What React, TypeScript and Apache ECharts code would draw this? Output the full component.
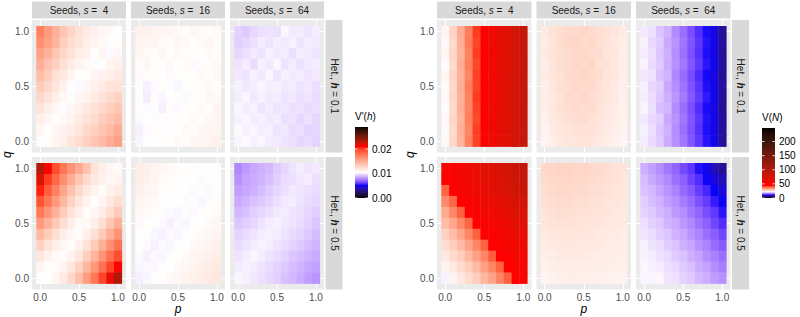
import React, { useEffect, useRef } from 'react';
import * as echarts from 'echarts';

// ---------------- data ----------------
const P = [0, 0.1, 0.2, 0.3, 0.4, 0.5, 0.6, 0.7, 0.8, 0.9, 1.0];
const Q_ROWS = [1.0, 0.9, 0.8, 0.7, 0.6, 0.5, 0.4, 0.3, 0.2, 0.1, 0.0];
const AXIS_BREAKS = [0, 0.5, 1.0];
const SEEDS = [4, 16, 64];
const HET = ['0.1', '0.5'];

// V'(h) panels, rows q = 1.0 ... 0.0, columns p = 0 ... 1
const vhH1S4 = [
  [0.0172, 0.0160, 0.0148, 0.0137, 0.0128, 0.0121, 0.0116, 0.0112, 0.0109, 0.0108, 0.0106],
  [0.0165, 0.0156, 0.0146, 0.0132, 0.0124, 0.0119, 0.0113, 0.0111, 0.0108, 0.0105, 0.0107],
  [0.0156, 0.0148, 0.0136, 0.0127, 0.0121, 0.0114, 0.0112, 0.0106, 0.0110, 0.0104, 0.0109],
  [0.0149, 0.0138, 0.0131, 0.0122, 0.0115, 0.0111, 0.0108, 0.0105, 0.0106, 0.0111, 0.0112],
  [0.0141, 0.0133, 0.0122, 0.0117, 0.0110, 0.0106, 0.0105, 0.0110, 0.0112, 0.0114, 0.0117],
  [0.0133, 0.0126, 0.0119, 0.0112, 0.0106, 0.0104, 0.0109, 0.0112, 0.0116, 0.0120, 0.0121],
  [0.0126, 0.0121, 0.0114, 0.0109, 0.0105, 0.0110, 0.0111, 0.0116, 0.0121, 0.0125, 0.0129],
  [0.0120, 0.0114, 0.0109, 0.0105, 0.0109, 0.0112, 0.0117, 0.0121, 0.0126, 0.0131, 0.0136],
  [0.0114, 0.0110, 0.0106, 0.0108, 0.0111, 0.0116, 0.0121, 0.0125, 0.0132, 0.0137, 0.0142],
  [0.0110, 0.0106, 0.0109, 0.0112, 0.0115, 0.0119, 0.0126, 0.0131, 0.0137, 0.0143, 0.0150],
  [0.0105, 0.0107, 0.0110, 0.0113, 0.0119, 0.0124, 0.0130, 0.0136, 0.0142, 0.0149, 0.0156],
];
const vhH1S16 = [
  [0.0113, 0.0112, 0.0111, 0.0110, 0.0109, 0.0108, 0.0107, 0.0109, 0.0108, 0.0107, 0.0108],
  [0.0111, 0.0109, 0.0110, 0.0108, 0.0107, 0.0109, 0.0108, 0.0106, 0.0108, 0.0109, 0.0107],
  [0.0110, 0.0108, 0.0107, 0.0109, 0.0106, 0.0108, 0.0105, 0.0107, 0.0106, 0.0108, 0.0107],
  [0.0107, 0.0109, 0.0106, 0.0105, 0.0108, 0.0106, 0.0107, 0.0104, 0.0107, 0.0106, 0.0108],
  [0.0108, 0.0105, 0.0107, 0.0106, 0.0104, 0.0107, 0.0105, 0.0106, 0.0108, 0.0107, 0.0109],
  [0.0106, 0.0102, 0.0104, 0.0107, 0.0105, 0.0103, 0.0106, 0.0105, 0.0107, 0.0108, 0.0107],
  [0.0105, 0.0101, 0.0107, 0.0103, 0.0106, 0.0105, 0.0104, 0.0107, 0.0106, 0.0109, 0.0108],
  [0.0107, 0.0104, 0.0105, 0.0102, 0.0107, 0.0104, 0.0107, 0.0106, 0.0108, 0.0107, 0.0110],
  [0.0104, 0.0106, 0.0105, 0.0107, 0.0105, 0.0107, 0.0106, 0.0108, 0.0107, 0.0109, 0.0110],
  [0.0102, 0.0104, 0.0107, 0.0105, 0.0107, 0.0106, 0.0108, 0.0107, 0.0109, 0.0110, 0.0111],
  [0.0103, 0.0105, 0.0106, 0.0107, 0.0106, 0.0108, 0.0107, 0.0109, 0.0110, 0.0111, 0.0112],
];
const vhH1S64 = [
  [0.0095, 0.0093, 0.0096, 0.0098, 0.0099, 0.0098, 0.0103, 0.0100, 0.0101, 0.0099, 0.0101],
  [0.0094, 0.0096, 0.0098, 0.0101, 0.0099, 0.0101, 0.0100, 0.0102, 0.0099, 0.0101, 0.0100],
  [0.0096, 0.0098, 0.0100, 0.0099, 0.0102, 0.0100, 0.0101, 0.0098, 0.0101, 0.0100, 0.0099],
  [0.0099, 0.0101, 0.0097, 0.0102, 0.0100, 0.0103, 0.0099, 0.0101, 0.0098, 0.0100, 0.0101],
  [0.0100, 0.0099, 0.0102, 0.0100, 0.0103, 0.0099, 0.0102, 0.0100, 0.0101, 0.0099, 0.0100],
  [0.0102, 0.0100, 0.0101, 0.0103, 0.0101, 0.0102, 0.0100, 0.0101, 0.0099, 0.0100, 0.0098],
  [0.0101, 0.0103, 0.0100, 0.0102, 0.0100, 0.0101, 0.0099, 0.0100, 0.0098, 0.0099, 0.0097],
  [0.0103, 0.0101, 0.0102, 0.0099, 0.0101, 0.0099, 0.0100, 0.0098, 0.0099, 0.0097, 0.0098],
  [0.0102, 0.0103, 0.0101, 0.0102, 0.0100, 0.0101, 0.0098, 0.0099, 0.0096, 0.0098, 0.0096],
  [0.0104, 0.0102, 0.0103, 0.0101, 0.0102, 0.0099, 0.0100, 0.0097, 0.0098, 0.0095, 0.0096],
  [0.0103, 0.0104, 0.0102, 0.0103, 0.0101, 0.0100, 0.0099, 0.0098, 0.0096, 0.0097, 0.0095],
];
const vhH5S4 = [
  [0.0232, 0.0212, 0.0195, 0.0178, 0.0163, 0.0152, 0.0138, 0.0121, 0.0114, 0.0110, 0.0108],
  [0.0220, 0.0200, 0.0183, 0.0166, 0.0150, 0.0136, 0.0125, 0.0117, 0.0112, 0.0109, 0.0111],
  [0.0207, 0.0188, 0.0172, 0.0154, 0.0138, 0.0126, 0.0117, 0.0111, 0.0107, 0.0112, 0.0116],
  [0.0192, 0.0177, 0.0160, 0.0144, 0.0129, 0.0119, 0.0111, 0.0106, 0.0110, 0.0117, 0.0124],
  [0.0176, 0.0162, 0.0148, 0.0133, 0.0121, 0.0113, 0.0107, 0.0109, 0.0115, 0.0124, 0.0134],
  [0.0160, 0.0148, 0.0135, 0.0123, 0.0114, 0.0108, 0.0108, 0.0114, 0.0123, 0.0136, 0.0148],
  [0.0144, 0.0133, 0.0123, 0.0115, 0.0109, 0.0107, 0.0113, 0.0122, 0.0134, 0.0149, 0.0163],
  [0.0130, 0.0121, 0.0114, 0.0109, 0.0107, 0.0112, 0.0121, 0.0133, 0.0148, 0.0164, 0.0178],
  [0.0118, 0.0112, 0.0108, 0.0107, 0.0111, 0.0119, 0.0131, 0.0146, 0.0163, 0.0180, 0.0194],
  [0.0110, 0.0107, 0.0107, 0.0111, 0.0118, 0.0129, 0.0144, 0.0161, 0.0179, 0.0197, 0.0212],
  [0.0106, 0.0106, 0.0109, 0.0116, 0.0126, 0.0140, 0.0158, 0.0177, 0.0197, 0.0216, 0.0234],
];
const vhH5S16 = [
  [0.0115, 0.0113, 0.0111, 0.0110, 0.0108, 0.0107, 0.0106, 0.0107, 0.0105, 0.0106, 0.0105],
  [0.0114, 0.0112, 0.0110, 0.0108, 0.0107, 0.0106, 0.0105, 0.0106, 0.0104, 0.0105, 0.0106],
  [0.0112, 0.0111, 0.0109, 0.0107, 0.0106, 0.0105, 0.0106, 0.0104, 0.0105, 0.0104, 0.0106],
  [0.0111, 0.0109, 0.0108, 0.0106, 0.0105, 0.0106, 0.0104, 0.0105, 0.0103, 0.0105, 0.0107],
  [0.0109, 0.0108, 0.0106, 0.0105, 0.0104, 0.0103, 0.0105, 0.0104, 0.0106, 0.0106, 0.0108],
  [0.0108, 0.0106, 0.0105, 0.0104, 0.0102, 0.0104, 0.0103, 0.0105, 0.0106, 0.0108, 0.0109],
  [0.0106, 0.0105, 0.0103, 0.0102, 0.0104, 0.0103, 0.0105, 0.0106, 0.0108, 0.0109, 0.0111],
  [0.0105, 0.0104, 0.0102, 0.0104, 0.0103, 0.0105, 0.0106, 0.0108, 0.0109, 0.0111, 0.0113],
  [0.0104, 0.0102, 0.0104, 0.0103, 0.0105, 0.0106, 0.0108, 0.0110, 0.0111, 0.0113, 0.0115],
  [0.0103, 0.0104, 0.0103, 0.0105, 0.0106, 0.0108, 0.0109, 0.0111, 0.0113, 0.0115, 0.0117],
  [0.0102, 0.0103, 0.0105, 0.0106, 0.0108, 0.0109, 0.0111, 0.0113, 0.0115, 0.0117, 0.0118],
];
const vhH5S64 = [
  [0.0078, 0.0082, 0.0085, 0.0087, 0.0089, 0.0093, 0.0096, 0.0099, 0.0101, 0.0099, 0.0100],
  [0.0080, 0.0084, 0.0086, 0.0088, 0.0091, 0.0094, 0.0097, 0.0098, 0.0100, 0.0101, 0.0098],
  [0.0083, 0.0085, 0.0087, 0.0090, 0.0093, 0.0096, 0.0098, 0.0100, 0.0099, 0.0098, 0.0097],
  [0.0086, 0.0088, 0.0091, 0.0093, 0.0095, 0.0098, 0.0100, 0.0101, 0.0099, 0.0097, 0.0096],
  [0.0089, 0.0091, 0.0094, 0.0096, 0.0098, 0.0100, 0.0101, 0.0099, 0.0098, 0.0096, 0.0094],
  [0.0092, 0.0094, 0.0096, 0.0099, 0.0101, 0.0102, 0.0100, 0.0099, 0.0097, 0.0095, 0.0092],
  [0.0095, 0.0097, 0.0099, 0.0101, 0.0102, 0.0101, 0.0099, 0.0097, 0.0095, 0.0093, 0.0090],
  [0.0097, 0.0099, 0.0101, 0.0102, 0.0101, 0.0099, 0.0097, 0.0095, 0.0093, 0.0090, 0.0088],
  [0.0099, 0.0101, 0.0103, 0.0101, 0.0099, 0.0097, 0.0095, 0.0092, 0.0090, 0.0088, 0.0086],
  [0.0101, 0.0102, 0.0101, 0.0099, 0.0097, 0.0095, 0.0093, 0.0090, 0.0088, 0.0085, 0.0084],
  [0.0103, 0.0102, 0.0100, 0.0098, 0.0096, 0.0094, 0.0091, 0.0089, 0.0086, 0.0083, 0.0081],
];

// V(N) panels
const vnH1S4 = [
  [23.1, 27.0, 31.6, 36.4, 42.0, 47.5, 54.6, 61.8, 69.5, 77.8, 86.5],
  [22.6, 26.3, 31.2, 36.8, 41.3, 47.0, 54.1, 61.2, 69.0, 77.1, 86.0],
  [23.0, 26.8, 30.7, 35.9, 41.8, 46.6, 53.8, 60.9, 68.6, 77.5, 85.6],
  [22.4, 26.1, 31.4, 36.2, 41.1, 47.3, 54.3, 61.5, 69.2, 76.8, 85.9],
  [22.9, 26.9, 30.9, 35.6, 41.6, 46.9, 53.5, 60.7, 68.8, 77.3, 86.2],
  [22.5, 26.4, 31.3, 36.5, 41.2, 47.2, 54.0, 61.3, 69.1, 76.6, 85.4],
  [22.7, 26.6, 30.8, 36.0, 41.9, 46.8, 53.7, 60.8, 68.4, 77.0, 85.8],
  [22.3, 26.2, 31.1, 35.8, 41.4, 47.1, 54.2, 61.0, 68.9, 76.9, 85.5],
  [22.8, 26.7, 30.6, 36.3, 41.0, 46.7, 53.9, 61.4, 68.7, 77.2, 86.1],
  [22.2, 26.0, 31.0, 35.7, 41.7, 47.4, 53.6, 60.6, 69.3, 76.7, 85.7],
  [22.6, 26.5, 30.5, 36.1, 41.5, 46.5, 54.4, 61.1, 68.5, 77.4, 85.3],
];
const vnH1S16 = [
  [24.5, 25.3, 25.8, 26.4, 26.1, 26.7, 26.2, 25.9, 25.4, 24.9, 24.3],
  [24.2, 25.0, 26.0, 26.6, 26.9, 26.3, 26.5, 25.7, 25.2, 24.6, 24.1],
  [24.4, 25.2, 25.6, 26.2, 26.5, 26.8, 26.0, 25.8, 25.0, 24.8, 23.9],
  [24.0, 24.9, 25.9, 26.0, 26.7, 26.4, 26.6, 25.5, 25.3, 24.4, 24.0],
  [24.3, 25.1, 25.4, 26.3, 26.2, 26.9, 26.1, 25.9, 24.9, 24.7, 23.8],
  [23.9, 24.8, 25.7, 25.9, 26.5, 26.2, 26.4, 25.6, 25.1, 24.3, 23.9],
  [24.1, 24.6, 25.3, 26.1, 26.0, 26.6, 25.8, 25.4, 24.8, 24.5, 23.7],
  [23.8, 24.7, 25.5, 25.8, 26.3, 25.9, 26.0, 25.3, 24.7, 24.2, 23.6],
  [23.6, 24.4, 25.0, 25.6, 25.7, 26.0, 25.5, 25.1, 24.5, 24.0, 23.5],
  [23.4, 24.2, 24.8, 25.2, 25.5, 25.3, 25.4, 24.9, 24.3, 23.8, 23.3],
  [23.2, 23.9, 24.5, 24.9, 25.1, 25.2, 24.9, 24.6, 24.1, 23.6, 23.2],
];
const vnH1S64 = [
  [21.0, 20.6, 19.2, 18.4, 16.5, 15.1, 13.6, 12.2, 11.0, 9.8, 6.8],
  [21.4, 20.2, 19.6, 18.0, 16.9, 15.4, 13.9, 12.5, 11.2, 10.0, 7.0],
  [21.1, 20.5, 19.3, 18.3, 16.6, 15.2, 13.7, 12.3, 11.1, 9.9, 6.9],
  [21.5, 20.3, 19.5, 18.1, 16.8, 15.5, 14.0, 12.6, 11.3, 10.1, 7.1],
  [20.9, 20.7, 19.1, 18.5, 16.4, 15.0, 13.5, 12.1, 10.9, 9.7, 6.7],
  [21.3, 20.1, 19.7, 17.9, 16.7, 15.3, 13.8, 12.4, 11.1, 10.0, 7.2],
  [21.2, 20.4, 19.4, 18.2, 17.0, 15.6, 14.1, 12.7, 11.4, 10.2, 6.9],
  [21.6, 20.6, 19.0, 18.6, 16.5, 15.1, 13.6, 12.2, 11.0, 9.8, 6.8],
  [21.0, 20.2, 19.8, 18.0, 16.9, 15.4, 13.9, 12.5, 11.2, 10.0, 7.1],
  [21.4, 20.5, 19.3, 18.4, 16.6, 15.2, 13.7, 12.3, 11.1, 9.9, 7.0],
  [21.1, 20.3, 19.5, 18.1, 16.8, 15.5, 14.0, 12.6, 11.3, 10.1, 6.9],
];
const vnH5S4 = [
  [46.2, 49.1, 52.4, 56.0, 59.8, 64.1, 68.3, 72.9, 77.6, 82.8, 88.0],
  [45.1, 48.3, 51.2, 54.7, 58.4, 62.3, 66.1, 70.8, 75.9, 80.7, 85.6],
  [38.8, 46.0, 49.2, 52.6, 56.8, 60.7, 64.8, 69.1, 73.6, 78.9, 83.7],
  [35.2, 38.6, 45.3, 48.1, 51.9, 55.6, 59.8, 63.7, 68.2, 72.8, 77.9],
  [31.8, 35.4, 39.1, 45.0, 48.2, 51.6, 55.3, 59.1, 63.2, 67.6, 72.1],
  [29.6, 32.1, 35.3, 38.7, 44.8, 47.9, 51.2, 54.9, 58.7, 62.8, 67.0],
  [27.4, 29.7, 32.2, 35.6, 39.2, 45.1, 48.0, 51.3, 54.8, 58.6, 62.7],
  [25.9, 27.6, 29.8, 32.4, 35.7, 38.9, 44.9, 47.8, 51.1, 54.4, 58.1],
  [24.6, 26.1, 27.7, 30.1, 32.6, 35.4, 39.3, 45.2, 48.1, 51.0, 54.3],
  [23.2, 24.4, 26.0, 27.6, 29.9, 32.7, 35.6, 38.8, 44.9, 47.7, 50.9],
  [21.4, 23.1, 24.5, 26.2, 27.8, 30.2, 32.4, 35.7, 39.0, 45.3, 48.2],
];
const vnH5S16 = [
  [26.5, 26.8, 27.2, 27.0, 26.6, 26.9, 26.4, 26.1, 25.8, 25.5, 25.2],
  [26.2, 26.6, 26.9, 26.7, 26.4, 26.5, 26.2, 25.9, 25.6, 25.3, 25.0],
  [25.9, 26.3, 26.5, 26.4, 26.2, 26.1, 25.9, 25.7, 25.4, 25.1, 24.9],
  [25.6, 25.9, 26.2, 26.1, 25.9, 25.8, 25.6, 25.4, 25.2, 24.9, 24.7],
  [25.2, 25.6, 25.8, 25.7, 25.6, 25.5, 25.3, 25.2, 24.9, 24.7, 24.5],
  [24.9, 25.2, 25.4, 25.4, 25.3, 25.2, 25.0, 24.9, 24.7, 24.5, 24.3],
  [24.5, 24.9, 25.1, 25.0, 25.0, 24.9, 24.8, 24.6, 24.5, 24.3, 24.1],
  [24.2, 24.5, 24.7, 24.8, 24.7, 24.6, 24.5, 24.4, 24.2, 24.1, 23.9],
  [23.8, 24.1, 24.4, 24.5, 24.4, 24.3, 24.2, 24.1, 24.0, 23.9, 23.7],
  [23.5, 23.8, 24.0, 24.1, 24.1, 24.0, 23.9, 23.9, 23.8, 23.7, 23.5],
  [23.1, 23.4, 23.7, 23.8, 23.8, 23.7, 23.7, 23.6, 23.5, 23.4, 23.3],
];
const vnH5S64 = [
  [18.2, 17.4, 16.6, 15.5, 14.7, 13.4, 12.5, 11.2, 10.1, 8.3, 6.6],
  [18.8, 17.9, 17.2, 16.4, 15.2, 14.4, 13.1, 12.2, 10.8, 9.7, 8.1],
  [19.1, 18.6, 17.7, 16.9, 16.1, 14.9, 14.1, 12.8, 11.9, 10.6, 9.5],
  [19.7, 18.9, 18.4, 17.4, 16.8, 15.7, 14.9, 13.7, 12.8, 11.5, 10.5],
  [19.9, 19.5, 18.7, 18.2, 17.2, 16.6, 15.5, 14.7, 13.5, 12.6, 11.3],
  [20.5, 19.8, 19.4, 18.5, 18.0, 17.1, 16.4, 15.3, 14.5, 13.2, 12.2],
  [20.7, 20.4, 19.7, 19.3, 18.4, 17.9, 16.9, 16.2, 15.1, 14.3, 13.2],
  [21.3, 20.7, 20.4, 19.6, 19.2, 18.3, 17.8, 16.8, 16.1, 15.0, 14.2],
  [21.4, 21.2, 20.6, 20.3, 19.6, 19.1, 18.2, 17.7, 16.7, 16.0, 15.1],
  [21.9, 21.4, 21.1, 20.5, 20.2, 19.5, 19.0, 18.1, 17.6, 16.6, 15.9],
  [21.8, 21.7, 21.9, 20.8, 20.6, 19.9, 19.5, 18.7, 18.2, 17.3, 16.8],
];

const VH_PANELS = [vhH1S4, vhH1S16, vhH1S64, vhH5S4, vhH5S16, vhH5S64];
const VN_PANELS = [vnH1S4, vnH1S16, vnH1S64, vnH5S4, vnH5S16, vnH5S64];

const VH_LIMITS = [0, 0.029];
const VH_COLOR_VALUES = [0, 0.00525, 0.0105, 0.021, 0.029];
const VH_TICKS = [0, 0.01, 0.02];
const VN_LIMITS = [0, 248];
const VN_COLOR_VALUES = [0, 11, 22, 44, 248];
const VN_TICKS = [0, 50, 100, 150, 200];
const SCALE_COLORS = ['#000000', '#0000ff', '#ffffff', '#ff0000', '#000000'];

// ---------------- colour helpers (Lab interpolation like ggplot) ----------------
const Xn = 0.95047, Yn = 1.0, Zn = 1.08883;
const toLin = (c: number) => { c /= 255; return c <= 0.04045 ? c / 12.92 : Math.pow((c + 0.055) / 1.055, 2.4); };
const toSrgb = (c: number) => {
  const v = c <= 0.0031308 ? 12.92 * c : 1.055 * Math.pow(Math.max(c, 0), 1 / 2.4) - 0.055;
  return Math.round(Math.max(0, Math.min(1, v)) * 255);
};
const fLab = (t: number) => (t > 216 / 24389 ? Math.cbrt(t) : (24389 / 27 * t + 16) / 116);
const fInv = (t: number) => { const t3 = t * t * t; return t3 > 216 / 24389 ? t3 : (116 * t - 16) / (24389 / 27); };
function hexToLab(h: string) {
  const r = toLin(parseInt(h.slice(1, 3), 16)), g = toLin(parseInt(h.slice(3, 5), 16)), b = toLin(parseInt(h.slice(5, 7), 16));
  const X = 0.4124564 * r + 0.3575761 * g + 0.1804375 * b;
  const Y = 0.2126729 * r + 0.7151522 * g + 0.072175 * b;
  const Z = 0.0193339 * r + 0.119192 * g + 0.9503041 * b;
  const fx = fLab(X / Xn), fy = fLab(Y / Yn), fz = fLab(Z / Zn);
  return [116 * fy - 16, 500 * (fx - fy), 200 * (fy - fz)];
}
function labToHex(L: number, a: number, bb: number) {
  const fy = (L + 16) / 116, fx = fy + a / 500, fz = fy - bb / 200;
  const X = Xn * fInv(fx), Y = Yn * fInv(fy), Z = Zn * fInv(fz);
  const R = 3.2404542 * X - 1.5371385 * Y - 0.4985314 * Z;
  const G = -0.969266 * X + 1.8760108 * Y + 0.041556 * Z;
  const B = 0.0556434 * X - 0.2040259 * Y + 1.0572252 * Z;
  return '#' + [R, G, B].map((c) => toSrgb(c).toString(16).padStart(2, '0')).join('');
}
function buildPalette(stopVals: number[], stopCols: string[], lo: number, hi: number, n: number) {
  const labs = stopCols.map(hexToLab);
  const out: string[] = [];
  for (let i = 0; i < n; i++) {
    const v = lo + (i / (n - 1)) * (hi - lo);
    let k = 0;
    while (k < stopVals.length - 2 && v > stopVals[k + 1]) k++;
    const t = Math.max(0, Math.min(1, (v - stopVals[k]) / (stopVals[k + 1] - stopVals[k])));
    const A = labs[k], B = labs[k + 1];
    out.push(labToHex(A[0] + (B[0] - A[0]) * t, A[1] + (B[1] - A[1]) * t, A[2] + (B[2] - A[2]) * t));
  }
  return out;
}

// ---------------- layout ----------------
const FONT = '"Liberation Sans", Arial, Helvetica, sans-serif';
const FIGS = [
  { x0: 32, pw: 94, gap: 5, stripX: 325.5, qX: 7, legX: 355, legTop: 127, legH: 71 },
  { x0: 437, pw: 94.5, gap: 5, stripX: 732, qX: 410, legX: 762, legTop: 128, legH: 70 },
];
const ROWS = [{ top: 20, h: 132.5 }, { top: 157, h: 132.5 }];
const STRIP_W = 17;

function cellsOf(m: number[][]) {
  const d: number[][] = [];
  m.forEach((row, r) => row.forEach((v, c) => d.push([P[c], Q_ROWS[r], v])));
  return d;
}

const renderItem = (params: any, api: any) => {
  const p = api.value(0), q = api.value(1);
  const tl = api.coord([p - 0.05, q + 0.05]);
  const br = api.coord([p + 0.05, q - 0.05]);
  return {
    type: 'rect',
    shape: { x: tl[0], y: tl[1], width: br[0] - tl[0] + 0.4, height: br[1] - tl[1] + 0.4 },
    style: { fill: api.visual('color') },
  };
};

export default function App() {
  const ref = useRef<HTMLDivElement>(null);
  useEffect(() => {
    if (!ref.current) return;
    const chart = echarts.init(ref.current, null, { renderer: 'svg' });
    const grids: any[] = [], xAxes: any[] = [], yAxes: any[] = [], series: any[] = [], graphic: any[] = [];
    const palVH = buildPalette(VH_COLOR_VALUES, SCALE_COLORS, VH_LIMITS[0], VH_LIMITS[1], 256);
    const palVN = buildPalette(VN_COLOR_VALUES, SCALE_COLORS, VN_LIMITS[0], VN_LIMITS[1], 256);

    FIGS.forEach((fig, f) => {
      const panels = f === 0 ? VH_PANELS : VN_PANELS;
      for (let r = 0; r < 2; r++) {
        for (let c = 0; c < 3; c++) {
          const idx = grids.length;
          const left = fig.x0 + c * (fig.pw + fig.gap);
          const row = ROWS[r];
          grids.push({ left, top: row.top, width: fig.pw, height: row.h, show: true, backgroundColor: '#EBEBEB', borderWidth: 0 });
          const isBottom = r === 1, isLeft = c === 0;
          xAxes.push({
            type: 'value', gridIndex: idx, min: -0.105, max: 1.105,
            axisLine: { show: false },
            axisTick: { show: isBottom, length: 2.7, customValues: AXIS_BREAKS, lineStyle: { color: '#333333', width: 1 } },
            axisLabel: { show: isBottom, customValues: AXIS_BREAKS, formatter: (v: number) => v.toFixed(1), color: '#4D4D4D', fontSize: 10, fontFamily: FONT, margin: 3 },
            splitLine: { show: true, lineStyle: { color: '#ffffff', width: 1 } },
          });
          yAxes.push({
            type: 'value', gridIndex: idx, min: -0.105, max: 1.105,
            axisLine: { show: false },
            axisTick: { show: isLeft, length: 2.7, customValues: AXIS_BREAKS, lineStyle: { color: '#333333', width: 1 } },
            axisLabel: { show: isLeft, customValues: AXIS_BREAKS, formatter: (v: number) => v.toFixed(1), color: '#4D4D4D', fontSize: 10, fontFamily: FONT, margin: 3 },
            splitLine: { show: true, lineStyle: { color: '#ffffff', width: 1 } },
          });
          series.push({
            type: 'custom', xAxisIndex: idx, yAxisIndex: idx, silent: true,
            encode: { x: 0, y: 1 }, data: cellsOf(panels[r * 3 + c]), renderItem,
          });
          if (r === 0) {
            graphic.push({ type: 'rect', shape: { x: left, y: 1.5, width: fig.pw, height: 17 }, style: { fill: '#D9D9D9' }, silent: true });
            graphic.push({
              type: 'text', x: left + fig.pw / 2, y: 10.5, silent: true,
              style: {
                text: `Seeds, {i|s} =  ${SEEDS[c]}`, align: 'center', verticalAlign: 'middle',
                fill: '#1A1A1A', fontSize: 10, fontFamily: FONT,
                rich: { i: { fontStyle: 'italic', fontSize: 10, fontFamily: FONT, fill: '#1A1A1A' } },
              },
            });
          }
        }
        const row = ROWS[r];
        graphic.push({ type: 'rect', shape: { x: fig.stripX, y: row.top, width: STRIP_W, height: row.h }, style: { fill: '#D9D9D9' }, silent: true });
        graphic.push({
          type: 'text', x: fig.stripX + STRIP_W / 2, y: row.top + row.h / 2, rotation: -Math.PI / 2, silent: true,
          style: {
            text: `Het., {i|h} = ${HET[r]}`, align: 'center', verticalAlign: 'middle',
            fill: '#1A1A1A', fontSize: 10, fontFamily: FONT,
            rich: { i: { fontStyle: 'italic', fontWeight: 'bold', fontSize: 10, fontFamily: FONT, fill: '#1A1A1A' } },
          },
        });
      }
      const xCenter = (fig.x0 + fig.x0 + 3 * fig.pw + 2 * fig.gap) / 2;
      graphic.push({ type: 'text', x: xCenter, y: 309, silent: true, style: { text: 'p', align: 'center', verticalAlign: 'middle', fontStyle: 'italic', fontSize: 12, fontFamily: FONT, fill: '#000000' } });
      graphic.push({ type: 'text', x: fig.qX, y: (ROWS[0].top + ROWS[1].top + ROWS[1].h) / 2, rotation: Math.PI / 2, silent: true, style: { text: 'q', align: 'center', verticalAlign: 'middle', fontStyle: 'italic', fontSize: 12, fontFamily: FONT, fill: '#000000' } });

      const pal = f === 0 ? palVH : palVN;
      const lim = f === 0 ? VH_LIMITS : VN_LIMITS;
      const ticks = f === 0 ? VH_TICKS : VN_TICKS;
      const barW = 13;
      graphic.push({
        type: 'text', x: fig.legX, y: fig.legTop - 11, silent: true,
        style: {
          text: f === 0 ? "V'({i|h})" : 'V({i|N})', align: 'left', verticalAlign: 'middle', fontSize: 10, fontFamily: FONT, fill: '#000',
          rich: { i: { fontStyle: 'italic', fontSize: 10, fontFamily: FONT, fill: '#000' } },
        },
      });
      graphic.push({
        type: 'rect', silent: true,
        shape: { x: fig.legX, y: fig.legTop, width: barW, height: fig.legH },
        style: { fill: new echarts.graphic.LinearGradient(0, 1, 0, 0, pal.map((col, i) => ({ offset: i / (pal.length - 1), color: col }))) },
      });
      ticks.forEach((t) => {
        const y = fig.legTop + fig.legH * (1 - (t - lim[0]) / (lim[1] - lim[0]));
        graphic.push({ type: 'line', silent: true, shape: { x1: fig.legX, y1: y, x2: fig.legX + 2.6, y2: y }, style: { stroke: '#ffffff', lineWidth: 0.8 } });
        graphic.push({ type: 'line', silent: true, shape: { x1: fig.legX + barW - 2.6, y1: y, x2: fig.legX + barW, y2: y }, style: { stroke: '#ffffff', lineWidth: 0.8 } });
        graphic.push({
          type: 'text', x: fig.legX + barW + 4, y, silent: true,
          style: { text: f === 0 ? t.toFixed(2) : String(t), align: 'left', verticalAlign: 'middle', fontSize: 10, fontFamily: FONT, fill: '#000000' },
        });
      });
    });

    chart.setOption({
      animation: false,
      backgroundColor: '#ffffff',
      grid: grids,
      xAxis: xAxes,
      yAxis: yAxes,
      visualMap: [
        { type: 'continuous', show: false, min: VH_LIMITS[0], max: VH_LIMITS[1], dimension: 2, seriesIndex: [0, 1, 2, 3, 4, 5], inRange: { color: palVH } },
        { type: 'continuous', show: false, min: VN_LIMITS[0], max: VN_LIMITS[1], dimension: 2, seriesIndex: [6, 7, 8, 9, 10, 11], inRange: { color: palVN } },
      ],
      series,
      graphic,
    });
    return () => chart.dispose();
  }, []);
  return <div ref={ref} style={{ position: 'absolute', left: 0, top: 0, width: 800, height: 317 }} />;
}
